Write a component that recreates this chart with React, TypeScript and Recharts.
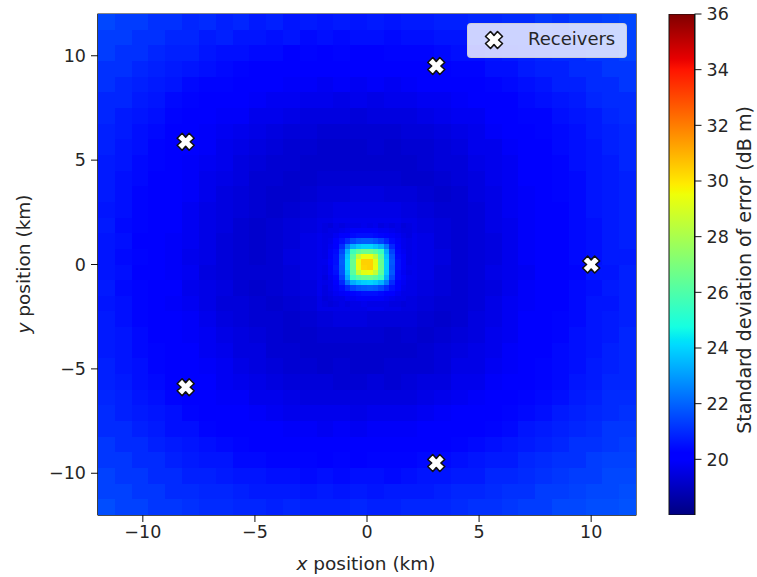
import React from 'react';
import {
  ScatterChart, Scatter, XAxis, YAxis, ZAxis, ReferenceArea, Legend,
  BarChart, Bar,
} from 'recharts';

const FONT = '"DejaVu Sans", sans-serif';
const TEXT = '#262626';

// colour scale limits and tick labels
const scaleTicks = [20, 22, 24, 26, 28, 30, 32, 34, 36];
const xyTicks = [-10, -5, 0, 5, 10];

// receiver positions in km
const receiverX = [10, 3.09, -8.09, -8.09, 3.09];
const receiverY = [0, 9.51, 5.88, -5.88, -9.51];

// coarse field, 0.75 km cells, top row first (dB m)
const coarseRows = [
  [21.5, 21.3, 21.3, 21.1, 21.1, 20.9, 21.0, 20.8, 20.9, 20.7, 20.8, 20.6, 20.7, 20.6, 20.7, 20.6, 20.7, 20.6, 20.7, 20.7, 20.8, 20.8, 20.9, 20.9, 21.0, 21.0, 21.2, 21.1, 21.3, 21.3, 21.4, 21.5],
  [21.3, 21.3, 21.1, 21.1, 20.9, 20.9, 20.7, 20.8, 20.6, 20.6, 20.5, 20.6, 20.4, 20.5, 20.4, 20.5, 20.5, 20.4, 20.5, 20.5, 20.6, 20.6, 20.8, 20.7, 20.9, 20.9, 21.1, 21.0, 21.2, 21.2, 21.4, 21.4],
  [21.3, 21.1, 21.1, 20.9, 20.8, 20.8, 20.6, 20.5, 20.5, 20.4, 20.4, 20.2, 20.3, 20.2, 20.3, 20.2, 20.2, 20.3, 20.3, 20.3, 20.4, 20.5, 20.5, 20.6, 20.7, 20.8, 20.9, 21.0, 21.0, 21.2, 21.2, 21.4],
  [21.1, 21.1, 20.9, 20.8, 20.7, 20.6, 20.5, 20.4, 20.3, 20.2, 20.2, 20.1, 20.1, 20.1, 20.0, 20.1, 20.1, 20.0, 20.1, 20.1, 20.2, 20.3, 20.3, 20.5, 20.5, 20.7, 20.8, 20.8, 21.0, 21.0, 21.2, 21.2],
  [21.1, 20.9, 20.8, 20.7, 20.6, 20.4, 20.3, 20.3, 20.1, 20.1, 20.0, 19.9, 19.9, 19.8, 19.9, 19.8, 19.9, 19.8, 19.9, 20.0, 20.0, 20.1, 20.2, 20.3, 20.4, 20.5, 20.6, 20.8, 20.8, 21.0, 21.0, 21.2],
  [20.9, 20.9, 20.7, 20.6, 20.4, 20.3, 20.2, 20.1, 20.0, 19.9, 19.8, 19.8, 19.7, 19.7, 19.6, 19.7, 19.6, 19.7, 19.7, 19.8, 19.8, 19.9, 20.0, 20.2, 20.2, 20.4, 20.5, 20.6, 20.7, 20.9, 21.0, 21.0],
  [20.9, 20.7, 20.6, 20.5, 20.3, 20.2, 20.1, 19.9, 19.9, 19.7, 19.7, 19.6, 19.5, 19.5, 19.5, 19.4, 19.5, 19.5, 19.5, 19.6, 19.7, 19.8, 19.8, 20.0, 20.1, 20.3, 20.3, 20.5, 20.6, 20.7, 20.9, 21.0],
  [20.8, 20.7, 20.5, 20.4, 20.2, 20.1, 19.9, 19.8, 19.7, 19.6, 19.5, 19.4, 19.4, 19.3, 19.3, 19.3, 19.3, 19.3, 19.4, 19.4, 19.5, 19.6, 19.7, 19.9, 20.0, 20.1, 20.3, 20.4, 20.5, 20.7, 20.8, 20.9],
  [20.8, 20.6, 20.5, 20.3, 20.2, 20.0, 19.9, 19.7, 19.6, 19.5, 19.4, 19.3, 19.3, 19.2, 19.2, 19.2, 19.3, 19.2, 19.3, 19.3, 19.4, 19.5, 19.7, 19.7, 19.9, 20.1, 20.2, 20.4, 20.5, 20.6, 20.8, 20.9],
  [20.7, 20.6, 20.4, 20.3, 20.1, 19.9, 19.8, 19.7, 19.5, 19.4, 19.3, 19.3, 19.2, 19.2, 19.2, 19.2, 19.2, 19.2, 19.2, 19.3, 19.4, 19.4, 19.6, 19.7, 19.8, 20.0, 20.2, 20.3, 20.5, 20.6, 20.7, 20.9],
  [20.7, 20.5, 20.4, 20.2, 20.1, 19.9, 19.7, 19.6, 19.5, 19.3, 19.3, 19.2, 19.2, 19.3, 19.3, 19.3, 19.3, 19.3, 19.2, 19.2, 19.3, 19.4, 19.5, 19.7, 19.8, 20.0, 20.1, 20.3, 20.4, 20.6, 20.7, 20.8],
  [20.7, 20.5, 20.3, 20.2, 20.0, 19.9, 19.7, 19.5, 19.4, 19.3, 19.2, 19.2, 19.3, 19.4, 19.4, 19.5, 19.5, 19.4, 19.4, 19.3, 19.2, 19.3, 19.5, 19.6, 19.8, 19.9, 20.1, 20.3, 20.4, 20.6, 20.7, 20.8],
  [20.6, 20.5, 20.3, 20.2, 20.0, 19.8, 19.6, 19.5, 19.4, 19.3, 19.2, 19.3, 19.4, 19.5, 19.6, 19.6, 19.6, 19.6, 19.5, 19.4, 19.3, 19.3, 19.4, 19.6, 19.8, 19.9, 20.1, 20.2, 20.4, 20.6, 20.7, 20.8],
  [20.7, 20.4, 20.3, 20.1, 20.0, 19.8, 19.6, 19.5, 19.3, 19.2, 19.3, 19.4, 19.5, 19.6, 19.7, 19.7, 19.7, 19.7, 19.6, 19.5, 19.4, 19.3, 19.4, 19.6, 19.7, 19.9, 20.1, 20.2, 20.4, 20.5, 20.7, 20.8],
  [20.6, 20.5, 20.2, 20.1, 19.9, 19.8, 19.6, 19.4, 19.3, 19.2, 19.3, 19.4, 19.6, 19.7, 19.7, 19.8, 19.8, 19.7, 19.7, 19.6, 19.4, 19.3, 19.4, 19.5, 19.7, 19.9, 20.0, 20.2, 20.4, 20.5, 20.7, 20.8],
  [20.6, 20.4, 20.3, 20.1, 19.9, 19.7, 19.6, 19.4, 19.3, 19.2, 19.3, 19.5, 19.6, 19.7, 19.8, 19.8, 19.8, 19.8, 19.7, 19.6, 19.5, 19.3, 19.4, 19.5, 19.7, 19.9, 20.0, 20.2, 20.4, 20.5, 20.7, 20.7],
  [20.6, 20.5, 20.2, 20.1, 19.9, 19.8, 19.5, 19.4, 19.3, 19.3, 19.3, 19.4, 19.6, 19.7, 19.8, 19.8, 19.8, 19.8, 19.7, 19.6, 19.4, 19.3, 19.4, 19.6, 19.7, 19.8, 20.1, 20.2, 20.3, 20.6, 20.6, 20.8],
  [20.7, 20.4, 20.3, 20.1, 20.0, 19.7, 19.6, 19.5, 19.3, 19.2, 19.3, 19.4, 19.5, 19.7, 19.7, 19.7, 19.8, 19.7, 19.6, 19.5, 19.4, 19.3, 19.4, 19.5, 19.7, 19.9, 20.0, 20.2, 20.4, 20.5, 20.7, 20.8],
  [20.6, 20.5, 20.3, 20.2, 19.9, 19.8, 19.6, 19.4, 19.4, 19.3, 19.2, 19.3, 19.4, 19.6, 19.6, 19.6, 19.7, 19.6, 19.5, 19.4, 19.3, 19.3, 19.4, 19.6, 19.8, 19.9, 20.1, 20.2, 20.4, 20.6, 20.6, 20.8],
  [20.7, 20.5, 20.3, 20.2, 20.0, 19.9, 19.7, 19.5, 19.4, 19.3, 19.3, 19.2, 19.3, 19.4, 19.5, 19.5, 19.4, 19.4, 19.4, 19.3, 19.2, 19.3, 19.5, 19.6, 19.8, 20.0, 20.1, 20.3, 20.4, 20.6, 20.7, 20.8],
  [20.7, 20.6, 20.4, 20.2, 20.1, 19.9, 19.8, 19.6, 19.5, 19.4, 19.3, 19.2, 19.2, 19.3, 19.3, 19.3, 19.3, 19.2, 19.3, 19.2, 19.3, 19.4, 19.5, 19.7, 19.8, 20.0, 20.2, 20.3, 20.5, 20.6, 20.7, 20.9],
  [20.7, 20.6, 20.4, 20.3, 20.1, 20.0, 19.8, 19.7, 19.5, 19.5, 19.3, 19.3, 19.2, 19.2, 19.2, 19.2, 19.2, 19.2, 19.2, 19.3, 19.4, 19.5, 19.6, 19.7, 19.9, 20.0, 20.2, 20.4, 20.5, 20.6, 20.8, 20.9],
  [20.8, 20.6, 20.5, 20.3, 20.2, 20.0, 19.9, 19.8, 19.6, 19.5, 19.4, 19.3, 19.3, 19.2, 19.3, 19.2, 19.2, 19.3, 19.3, 19.3, 19.4, 19.6, 19.6, 19.8, 19.9, 20.1, 20.3, 20.4, 20.5, 20.7, 20.8, 20.9],
  [20.8, 20.7, 20.5, 20.4, 20.2, 20.1, 20.0, 19.8, 19.7, 19.6, 19.5, 19.4, 19.4, 19.4, 19.3, 19.3, 19.4, 19.3, 19.4, 19.5, 19.5, 19.7, 19.7, 19.9, 20.0, 20.2, 20.3, 20.4, 20.6, 20.7, 20.9, 20.9],
  [20.9, 20.8, 20.6, 20.5, 20.3, 20.2, 20.1, 19.9, 19.9, 19.7, 19.7, 19.6, 19.5, 19.5, 19.5, 19.5, 19.5, 19.5, 19.5, 19.6, 19.7, 19.8, 19.9, 20.0, 20.1, 20.3, 20.4, 20.5, 20.7, 20.8, 21.0, 21.0],
  [21.0, 20.8, 20.7, 20.6, 20.5, 20.3, 20.2, 20.1, 20.0, 19.9, 19.8, 19.7, 19.7, 19.7, 19.7, 19.6, 19.7, 19.7, 19.7, 19.8, 19.9, 20.0, 20.0, 20.2, 20.3, 20.4, 20.5, 20.7, 20.8, 20.9, 21.0, 21.1],
  [21.0, 21.0, 20.8, 20.7, 20.5, 20.5, 20.3, 20.2, 20.2, 20.0, 20.0, 19.9, 19.9, 19.8, 19.9, 19.8, 19.9, 19.9, 19.9, 20.0, 20.1, 20.1, 20.2, 20.3, 20.4, 20.6, 20.7, 20.8, 20.9, 21.0, 21.2, 21.2],
  [21.2, 21.0, 21.0, 20.8, 20.7, 20.6, 20.5, 20.4, 20.3, 20.2, 20.2, 20.1, 20.1, 20.1, 20.0, 20.1, 20.1, 20.0, 20.1, 20.2, 20.2, 20.3, 20.4, 20.5, 20.6, 20.7, 20.8, 20.9, 21.1, 21.1, 21.2, 21.3],
  [21.2, 21.2, 21.0, 21.0, 20.8, 20.7, 20.6, 20.6, 20.4, 20.4, 20.3, 20.3, 20.3, 20.2, 20.3, 20.2, 20.3, 20.3, 20.3, 20.4, 20.4, 20.5, 20.6, 20.7, 20.7, 20.9, 21.0, 21.1, 21.1, 21.3, 21.4, 21.4],
  [21.4, 21.2, 21.2, 21.0, 21.0, 20.8, 20.8, 20.7, 20.6, 20.6, 20.5, 20.5, 20.4, 20.5, 20.4, 20.5, 20.5, 20.4, 20.5, 20.6, 20.6, 20.7, 20.7, 20.9, 20.9, 21.0, 21.1, 21.2, 21.3, 21.3, 21.5, 21.5],
  [21.4, 21.4, 21.2, 21.2, 21.0, 21.0, 20.9, 20.9, 20.8, 20.7, 20.7, 20.7, 20.6, 20.7, 20.6, 20.7, 20.6, 20.7, 20.7, 20.7, 20.8, 20.9, 20.9, 21.0, 21.1, 21.1, 21.3, 21.3, 21.4, 21.5, 21.5, 21.6],
  [21.6, 21.4, 21.4, 21.2, 21.2, 21.1, 21.0, 21.0, 20.9, 20.9, 20.8, 20.9, 20.8, 20.8, 20.8, 20.9, 20.8, 20.8, 20.9, 20.9, 20.9, 21.0, 21.1, 21.1, 21.2, 21.3, 21.3, 21.5, 21.5, 21.6, 21.6, 21.7],
];

// hot spot around the origin, 0.25 km cells, top row first
const fineRows = [
  [19.5, 19.4, 19.6, 19.5, 19.6, 19.6, 19.6, 19.7, 19.6, 19.7, 19.5, 19.6, 19.5, 19.6, 19.4, 19.5],
  [19.5, 19.6, 19.6, 19.7, 19.8, 19.9, 19.9, 19.9, 19.9, 19.9, 19.8, 19.8, 19.7, 19.6, 19.5, 19.5],
  [19.6, 19.6, 19.8, 20.0, 20.2, 20.4, 20.5, 20.5, 20.5, 20.4, 20.3, 20.1, 19.9, 19.8, 19.6, 19.5],
  [19.6, 19.7, 20.0, 20.5, 21.0, 21.5, 21.8, 21.9, 21.9, 21.7, 21.4, 20.9, 20.4, 19.9, 19.7, 19.6],
  [19.6, 19.8, 20.2, 21.0, 22.4, 23.4, 23.8, 24.0, 24.0, 23.7, 23.3, 22.3, 20.9, 20.2, 19.7, 19.6],
  [19.6, 19.9, 20.4, 21.5, 23.4, 25.6, 26.3, 26.6, 26.6, 26.2, 25.5, 23.3, 21.4, 20.3, 19.8, 19.6],
  [19.6, 19.9, 20.5, 21.8, 23.8, 26.3, 28.5, 29.4, 29.4, 28.4, 26.2, 23.7, 21.7, 20.4, 19.9, 19.6],
  [19.7, 20.0, 20.5, 21.9, 24.0, 26.6, 29.4, 30.4, 30.4, 29.3, 26.5, 23.9, 21.8, 20.5, 19.9, 19.6],
  [19.6, 19.9, 20.6, 21.8, 24.0, 26.5, 29.4, 30.3, 30.4, 29.4, 26.6, 23.9, 21.7, 20.5, 19.9, 19.7],
  [19.6, 19.9, 20.5, 21.7, 23.7, 26.2, 28.4, 29.3, 29.4, 28.5, 26.3, 23.8, 21.8, 20.4, 19.8, 19.6],
  [19.5, 19.8, 20.3, 21.4, 23.3, 25.5, 26.2, 26.5, 26.6, 26.3, 25.6, 23.4, 21.5, 20.4, 19.9, 19.7],
  [19.6, 19.7, 20.2, 20.9, 22.3, 23.3, 23.7, 23.9, 24.0, 23.8, 23.4, 22.4, 21.0, 20.2, 19.8, 19.6],
  [19.5, 19.7, 19.9, 20.4, 20.9, 21.4, 21.7, 21.8, 21.9, 21.8, 21.5, 21.0, 20.5, 20.0, 19.7, 19.6],
  [19.5, 19.6, 19.8, 19.9, 20.1, 20.3, 20.4, 20.5, 20.5, 20.5, 20.4, 20.2, 20.0, 19.8, 19.6, 19.6],
  [19.4, 19.5, 19.6, 19.6, 19.8, 19.8, 19.9, 19.9, 19.9, 19.9, 19.9, 19.8, 19.7, 19.6, 19.6, 19.5],
  [19.5, 19.4, 19.5, 19.6, 19.5, 19.6, 19.6, 19.7, 19.6, 19.6, 19.6, 19.6, 19.5, 19.5, 19.4, 19.5],
];

// matplotlib jet anchors
const jetR = [[0, 0], [0.35, 0], [0.66, 1], [0.89, 1], [1, 0.5]];
const jetG = [[0, 0], [0.125, 0], [0.375, 1], [0.64, 1], [0.91, 0], [1, 0]];
const jetB = [[0, 0.5], [0.11, 1], [0.34, 1], [0.65, 0], [1, 0]];
const SCALE_MIN = 18;
const SCALE_MAX = 36;
const gradientStops = [0, 0.11, 0.125, 0.34, 0.35, 0.375, 0.64, 0.65, 0.66, 0.89, 0.91, 1];

const channel = (anchors: number[][], t: number) => {
  for (let i = 1; i < anchors.length; i++) {
    if (t <= anchors[i][0]) {
      const [a, va] = anchors[i - 1];
      const [b, vb] = anchors[i];
      return va + ((t - a) / (b - a)) * (vb - va);
    }
  }
  return anchors[anchors.length - 1][1];
};

const jet = (t: number) =>
  `rgb(${[jetR, jetG, jetB].map((c) => Math.round(channel(c, t) * 255)).join(',')})`;

const valueColor = (v: number) =>
  jet(Math.min(1, Math.max(0, (v - SCALE_MIN) / (SCALE_MAX - SCALE_MIN))));

const coarseCells = coarseRows.flatMap((row, r) =>
  row.map((v, c) => ({ x: c * 0.75 - 11.625, y: 11.625 - r * 0.75, v })));
const fineCells = fineRows.flatMap((row, r) =>
  row.map((v, c) => ({ x: c * 0.25 - 1.875, y: 1.875 - r * 0.25, v })));
const receivers = receiverX.map((x, i) => ({ x, y: receiverY[i] }));
const scaleBar = [{ name: 'scale', level: SCALE_MAX }];

const PX_PER_KM_X = 538 / 24;
const PX_PER_KM_Y = 501 / 24;

const cellShape = (km: number) => (props: any) => {
  const w = km * PX_PER_KM_X;
  const h = km * PX_PER_KM_Y;
  return (
    <rect
      x={props.cx - w / 2}
      y={props.cy - h / 2}
      width={w + 0.5}
      height={h + 0.5}
      fill={valueColor(props.payload.v)}
      shapeRendering="crispEdges"
    />
  );
};

const X_PATH = 'M-3.5,-8.5 L0,-4.6 L3.5,-8.5 L8.5,-3.5 L4.6,0 L8.5,3.5 L3.5,8.5 L0,4.6 L-3.5,8.5 L-8.5,3.5 L-4.6,0 L-8.5,-3.5 Z';

const ReceiverMark = (props: any) => (
  <path
    d={X_PATH}
    transform={`translate(${props.cx},${props.cy})`}
    fill="#fff"
    stroke="#111"
    strokeWidth={1.6}
    strokeLinejoin="round"
  />
);

const ReceiversLegend = () => (
  <div
    style={{
      boxSizing: 'border-box',
      width: 160,
      height: 35,
      background: 'rgba(255,255,255,0.8)',
      border: '1px solid rgba(204,204,204,0.8)',
      borderRadius: 4,
      position: 'relative',
      fontFamily: FONT,
      fontSize: 18,
      color: TEXT,
    }}
  >
    <svg width={24} height={24} style={{ position: 'absolute', left: 14, top: 4 }}>
      <path
        d={X_PATH}
        transform="translate(12,12)"
        fill="#fff"
        stroke="#111"
        strokeWidth={1.6}
        strokeLinejoin="round"
      />
    </svg>
    <span style={{ position: 'absolute', left: 60, top: 3, lineHeight: '24px' }}>Receivers</span>
  </div>
);

const minusTick = (v: number) => String(v).replace('-', '\u2212');
const tickStyle = { fontFamily: FONT, fontSize: 17.5, fill: TEXT };

const XTitle = () => (
  <text x={366} y={570} textAnchor="middle" fontFamily={FONT} fontSize={18.5} fill={TEXT}>
    <tspan fontStyle="italic">x</tspan> position (km)
  </text>
);

const YTitle = () => (
  <text
    transform="translate(30,264) rotate(-90)"
    textAnchor="middle"
    fontFamily={FONT}
    fontSize={18.5}
    fill={TEXT}
  >
    <tspan fontStyle="italic">y</tspan> position (km)
  </text>
);

const ScaleTitle = () => (
  <text
    transform="translate(111,270) rotate(-90)"
    textAnchor="middle"
    fontFamily={FONT}
    fontSize={19}
    fill={TEXT}
  >
    Standard deviation of error (dB m)
  </text>
);

export default function App() {
  return (
    <div style={{ position: 'absolute', left: 0, top: 0, width: 757, height: 577, background: '#fff' }}>
      <div style={{ position: 'absolute', left: 0, top: 0 }}>
        <ScatterChart width={660} height={577} margin={{ top: 14, right: 24, bottom: 0, left: 0 }}>
          <XAxis
            type="number"
            dataKey="x"
            domain={[-12, 12]}
            ticks={xyTicks}
            tickFormatter={minusTick}
            height={62}
            tick={tickStyle}
            tickSize={7}
            tickMargin={4}
            stroke="#111"
            allowDataOverflow
            label={<XTitle />}
          />
          <YAxis
            type="number"
            dataKey="y"
            domain={[-12, 12]}
            ticks={xyTicks}
            tickFormatter={minusTick}
            width={98}
            tick={tickStyle}
            tickSize={7}
            tickMargin={5}
            stroke="#111"
            allowDataOverflow
            label={<YTitle />}
          />
          <ZAxis range={[40, 40]} />
          <Scatter data={coarseCells} shape={cellShape(0.75)} isAnimationActive={false} />
          <Scatter data={fineCells} shape={cellShape(0.25)} isAnimationActive={false} />
          <ReferenceArea x1={-12} x2={12} y1={-12} y2={12} fill="none" stroke="#111" strokeWidth={1.2} />
          <Scatter name="Receivers" data={receivers} shape={ReceiverMark} isAnimationActive={false} />
          <Legend
            content={<ReceiversLegend />}
            layout="horizontal"
            verticalAlign="middle"
            wrapperStyle={{ left: 467, top: 23, width: 160, height: 35 }}
          />
        </ScatterChart>
      </div>
      <div style={{ position: 'absolute', left: 640, top: 0 }}>
        <BarChart
          width={117}
          height={577}
          data={scaleBar}
          barCategoryGap={0}
          margin={{ top: 14, right: 0, bottom: 62, left: 29 }}
        >
          <defs>
            <linearGradient id="jetScale" x1="0" y1="1" x2="0" y2="0">
              {gradientStops.map((t) => (
                <stop key={t} offset={t} stopColor={jet(t)} />
              ))}
            </linearGradient>
          </defs>
          <XAxis dataKey="name" hide />
          <YAxis
            orientation="right"
            type="number"
            domain={[SCALE_MIN, SCALE_MAX]}
            ticks={scaleTicks}
            width={62.5}
            tick={tickStyle}
            tickSize={7}
            tickMargin={5}
            stroke="#111"
            allowDataOverflow
            label={<ScaleTitle />}
          />
          <Bar dataKey="level" fill="url(#jetScale)" stroke="#111" strokeWidth={1} isAnimationActive={false} />
        </BarChart>
      </div>
    </div>
  );
}
